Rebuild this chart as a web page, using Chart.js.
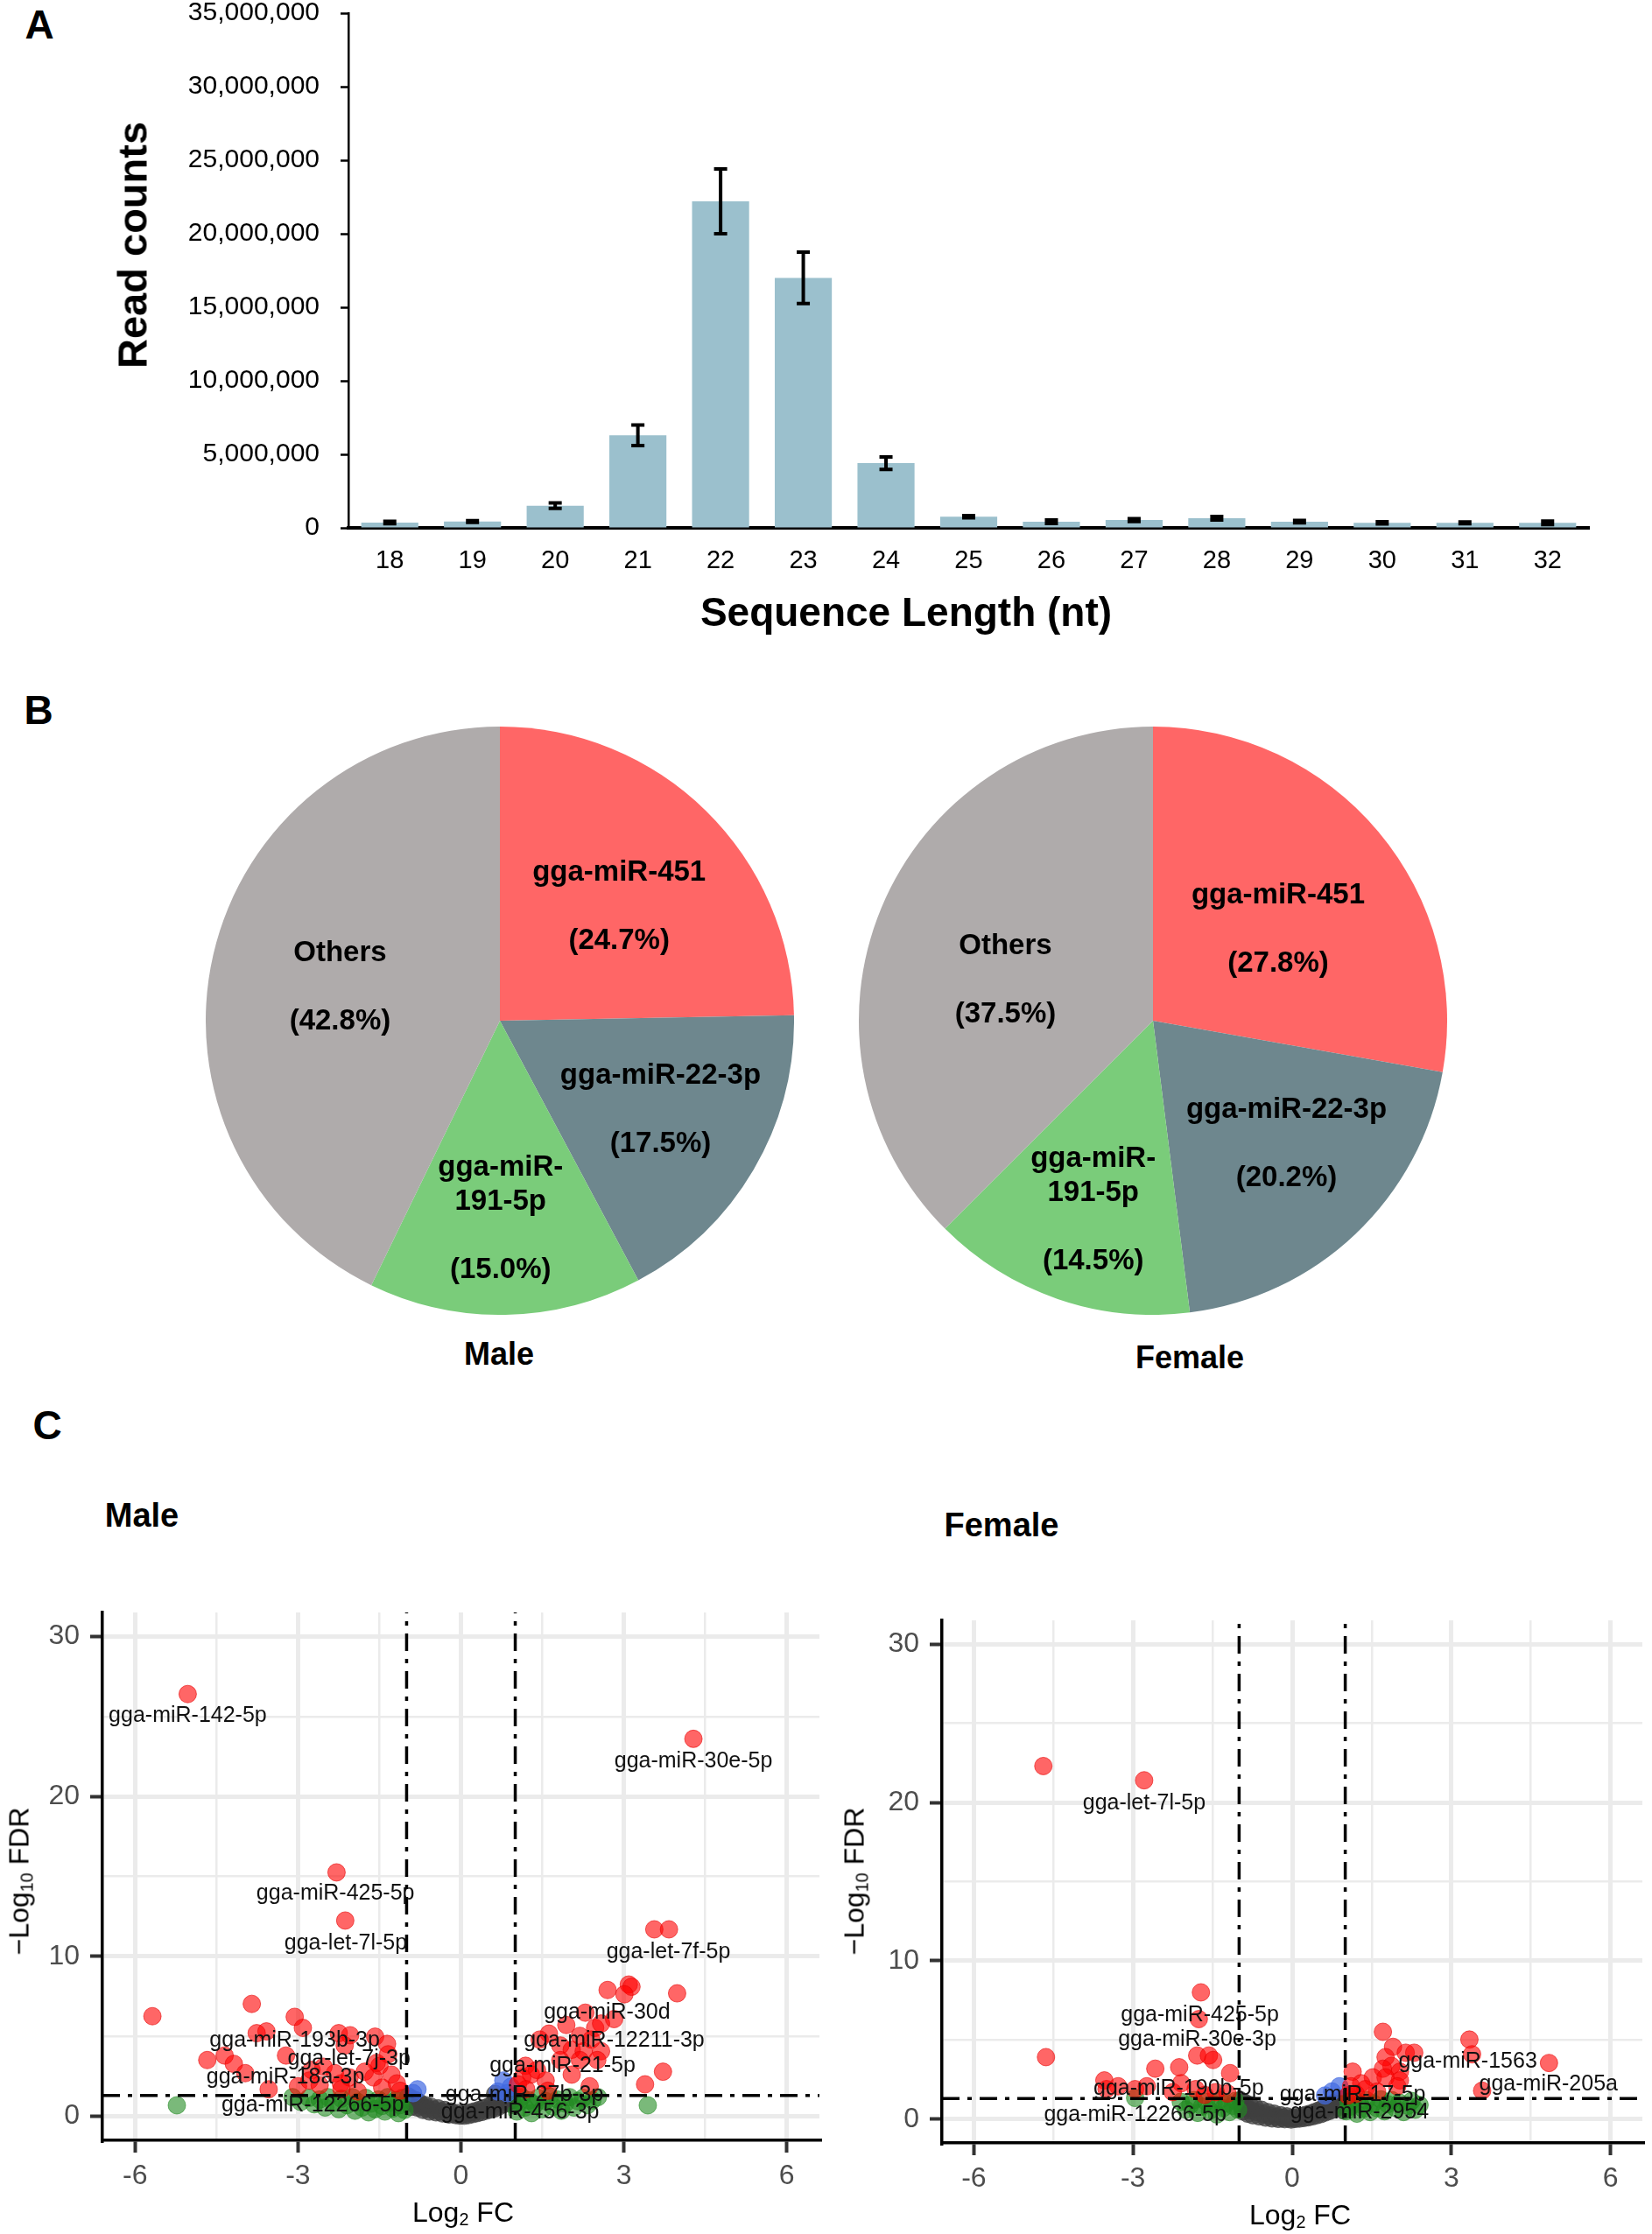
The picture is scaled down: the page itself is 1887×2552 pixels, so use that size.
<!DOCTYPE html>
<html>
<head>
<meta charset="utf-8">
<script src="https://cdn.jsdelivr.net/npm/chart.js@4.4.1/dist/chart.umd.min.js"></script>
<style>
  body { margin: 0; background: #fff; width: 1887px; height: 2552px; position: relative; overflow: hidden;
         font-family: "Liberation Sans", Arial, sans-serif; }
  canvas { position: absolute; }
  .t { position: absolute; transform: translate(-50%, -50%); white-space: nowrap; color: #000; }
  .b { font-weight: bold; }
  .rot { transform: translate(-50%, -50%) rotate(-90deg); }
  sub { font-size: 62%; vertical-align: -0.25em; }
</style>
</head>
<body>

<div class="t b" style="left:45px;top:28px;font-size:46px">A</div>
<div class="t b" style="left:44px;top:811px;font-size:46px">B</div>
<div class="t b" style="left:54px;top:1628px;font-size:46px">C</div>

<canvas id="lenChart" width="1887" height="740" style="left:0;top:0"></canvas>
<div class="t b rot" style="left:151px;top:280px;font-size:47px">Read counts</div>
<div class="t b" style="left:1035px;top:699px;font-size:46px">Sequence Length (nt)</div>

<canvas id="pieMale" width="672" height="672" style="left:235px;top:830px"></canvas>
<canvas id="pieFemale" width="672" height="672" style="left:981px;top:830px"></canvas>
<div class="t b" style="left:570px;top:1547px;font-size:36px">Male</div>
<div class="t b" style="left:1359px;top:1551px;font-size:36px">Female</div>

<div class="t b" style="left:162px;top:1731px;font-size:38px">Male</div>
<div class="t b" style="left:1144px;top:1742px;font-size:38px">Female</div>
<canvas id="volMale" width="950" height="772" style="left:0;top:1780px"></canvas>
<canvas id="volFemale" width="937" height="772" style="left:950px;top:1780px"></canvas>
<div class="t" style="left:529px;top:2528px;font-size:32px">Log<sub>2</sub> FC</div>
<div class="t rot" style="left:23px;top:2149px;font-size:32px">−Log<sub>10</sub> FDR</div>
<div class="t" style="left:1485px;top:2531px;font-size:32px">Log<sub>2</sub> FC</div>
<div class="t rot" style="left:977px;top:2149px;font-size:32px">−Log<sub>10</sub> FDR</div>

<script>
// ---- A: sequence length distribution
const seqLengths = ['18','19','20','21','22','23','24','25','26','27','28','29','30','31','32'];
const readCounts = [360000, 430000, 1510000, 6300000, 22200000, 17000000, 4400000, 760000,
                    420000, 530000, 650000, 420000, 340000, 340000, 340000];
const readErr = [80000, 60000, 180000, 700000, 2200000, 1750000, 420000, 80000,
                 120000, 100000, 120000, 80000, 70000, 60000, 120000];

// ---- B: top miRNAs
const pieNames = ['gga-miR-451', 'gga-miR-22-3p', 'gga-miR-191-5p', 'Others'];
const pieLines = [['gga-miR-451'], ['gga-miR-22-3p'], ['gga-miR-', '191-5p'], ['Others']];
const malePct = [24.7, 17.5, 15.0, 42.8];
const femalePct = [27.8, 20.2, 14.5, 37.5];

// ---- C: volcano plots  [log2FC, -log10 FDR]
const fcCut = [-1, 1];
const fdrCut = 1.3;
const volXTicks = [-6, -4.5, -3, -1.5, 0, 1.5, 3, 4.5, 6];
const volYTicks = [0, 5, 10, 15, 20, 25, 30];

const maleSig = [[-5.03,26.4],[4.28,23.6],[-2.29,15.25],[-2.13,12.24],[3.56,11.69],[3.83,11.69],
  [3.98,7.69],[2.7,7.9],[3.09,8.24],[3.14,8.1],[3.01,7.63],
  [-5.68,6.26],[-3.85,7.03],[-3.06,6.22],[-2.91,5.53],[-3.76,5.2],[-3.58,5.31],[-2.25,5.2],[-2.04,5.07],
  [-1.58,4.98],[-1.36,4.53],[-4.67,3.52],[-4.35,3.8],[-4.18,3.28],[-3.97,2.7],[-3.22,3.8],[-3.54,1.69],
  [-2.75,2.9],[-2.53,3.1],[-2.32,2.7],[-3.0,1.88],[-2.79,2.24],[-2.21,2.06],[-2.05,2.43],[-1.77,2.79],
  [-1.61,2.43],[-1.5,3.16],[-1.28,2.61],[-1.18,2.06],[-1.34,3.88],[-1.55,3.34],[-2.14,4.43],[-2.6,1.95],
  [-2.2,1.7],[-1.45,1.8],[-1.12,1.6],[-1.9,1.55],
  [2.29,6.48],[1.94,5.71],[2.47,5.53],[2.58,5.8],[2.82,6.08],[1.62,5.17],[1.45,4.8],[1.83,4.43],[2.04,4.16],
  [2.26,4.07],[2.58,4.07],[2.19,5.03],[2.4,4.8],[2.04,2.61],[2.37,1.88],[1.56,2.24],[1.19,3.16],[1.13,2.43],
  [1.29,2.61],[3.72,2.79],[3.39,2.0],[2.19,3.52],[2.51,3.52],[1.83,3.52],[1.05,2.0],[1.2,1.7],[1.6,1.6],[1.4,2.9]];
const maleFcOnly = [[-5.23,0.69],[3.44,0.69],
  [-3.1,1.2],[-2.95,0.9],[-2.8,1.15],[-2.7,0.75],[-2.6,1.05],[-2.5,0.55],[-2.45,1.2],[-2.35,0.85],[-2.25,0.45],
  [-2.2,1.1],[-2.1,0.7],[-2.0,1.2],[-1.95,0.35],[-1.9,0.9],[-1.82,0.55],[-1.75,1.15],[-1.7,0.25],[-1.65,0.8],
  [-1.58,0.45],[-1.52,1.05],[-1.45,0.65],[-1.4,0.3],[-1.35,1.2],[-1.3,0.85],[-1.25,0.5],[-1.2,1.0],[-1.15,0.2],
  [-1.12,0.7],[-1.08,1.15],[-1.04,0.4],
  [1.03,0.3],[1.07,0.9],[1.12,1.2],[1.18,0.55],[1.25,1.0],[1.3,0.2],[1.36,0.75],[1.42,1.15],[1.5,0.45],
  [1.56,0.95],[1.63,1.25],[1.7,0.6],[1.78,1.05],[1.85,0.35],[1.92,0.8],[2.0,1.2],[2.08,0.55],[2.15,0.95],
  [2.25,1.15],[2.33,0.7],[2.42,1.0],[2.52,1.2]];
const maleFdrOnly = [[-0.8,1.69],[-0.88,1.45],[0.78,2.24],[0.92,1.85],[0.68,1.55],[0.85,1.45]];
const maleNs = [[-0.97,1.25],[-0.95,0.9],[-0.92,0.6],[-0.9,1.1],[-0.86,0.8],[-0.83,1.0],[-0.8,0.55],[-0.76,0.85],
  [-0.72,0.65],[-0.7,0.4],[-0.66,0.7],[-0.62,0.5],[-0.58,0.3],[-0.55,0.6],[-0.5,0.42],[-0.46,0.25],[-0.42,0.5],
  [-0.38,0.3],[-0.34,0.18],[-0.3,0.4],[-0.26,0.22],[-0.22,0.12],[-0.18,0.3],[-0.14,0.15],[-0.1,0.08],[-0.06,0.2],
  [-0.02,0.05],[0.02,0.12],[0.06,0.04],[0.1,0.18],[0.14,0.08],[0.18,0.25],[0.22,0.14],[0.26,0.32],[0.3,0.2],
  [0.34,0.4],[0.38,0.27],[0.42,0.5],[0.46,0.35],[0.5,0.6],[0.54,0.42],[0.58,0.75],[0.62,0.5],[0.66,0.9],[0.7,0.62],
  [0.74,1.05],[0.78,0.75],[0.82,1.2],[0.86,0.9],[0.9,1.28],[0.94,1.0],[0.97,0.7],[0.63,1.4]];
const maleTags = [['gga-miR-142-5p',-5.03,25.03],['gga-miR-30e-5p',4.28,22.19],['gga-miR-425-5p',-2.31,13.93],
  ['gga-let-7l-5p',-2.12,10.83],['gga-let-7f-5p',3.82,10.28],['gga-miR-30d',2.69,6.48],['gga-miR-193b-3p',-3.06,4.76],
  ['gga-miR-12211-3p',2.82,4.71],['gga-let-7j-3p',-2.06,3.56],['gga-miR-21-5p',1.87,3.12],['gga-miR-18a-3p',-3.23,2.43],
  ['gga-miR-27b-3p',1.17,1.33],['gga-miR-12266-5p',-2.73,0.69],['gga-miR-456-3p',1.09,0.24]];

const femaleSig = [[-4.69,22.3],[-2.79,21.4],[-1.72,8.01],[-1.76,6.32],[-4.64,3.92],[-1.79,4.02],[-1.57,4.02],
  [-1.49,3.74],[-2.58,3.19],[-2.13,3.28],[-1.17,2.91],[-3.54,2.45],[-3.28,2.08],[-2.96,1.9],[-2.74,2.08],[-2.09,2.27],
  [-2.25,1.71],[-1.82,1.9],[-1.65,1.53],[-1.44,1.71],[-1.22,1.62],[-3.5,1.9],
  [1.71,5.52],[3.34,5.03],[1.9,4.57],[2.14,4.2],[2.3,4.2],[3.39,4.1],[4.84,3.55],[1.76,3.92],[1.87,3.37],[1.71,3.19],
  [2.03,3.0],[1.14,3.0],[1.52,2.64],[1.76,2.64],[2.03,2.45],[1.3,2.27],[1.11,2.08],[1.38,1.9],[1.98,2.08],[3.58,1.8],
  [1.2,1.6],[1.6,1.75],[1.05,1.5]];
const femaleFcOnly = [[-2.96,1.34],[-2.1,1.1],[-2.0,0.6],[-1.92,0.9],[-1.85,1.2],[-1.78,0.4],[-1.7,0.8],[-1.62,1.1],
  [-1.55,0.55],[-1.48,0.95],[-1.42,0.3],[-1.36,1.2],[-1.3,0.7],[-1.24,1.0],[-1.18,0.45],[-1.12,0.85],[-1.07,1.15],
  [-1.02,0.6],
  [1.02,0.5],[1.06,1.1],[1.1,0.8],[1.16,1.25],[1.22,0.35],[1.28,0.95],[1.34,0.65],[1.4,1.2],[1.47,0.45],[1.53,1.0],
  [1.6,0.7],[1.67,1.25],[1.74,0.5],[1.8,0.95],[1.88,1.2],[1.95,0.7],[2.02,1.05],[2.1,0.45],[2.18,0.85],[2.25,1.15],
  [2.32,0.6],[2.4,0.9]];
const femaleFdrOnly = [[0.89,2.08],[0.75,1.75],[0.62,1.5]];
const femaleNs = [[-0.98,1.2],[-0.96,0.85],[-0.93,0.5],[-0.9,1.05],[-0.87,0.7],[-0.84,0.35],[-0.8,0.9],[-0.77,0.55],
  [-0.74,0.25],[-0.7,0.75],[-0.66,0.45],[-0.62,0.18],[-0.58,0.6],[-0.54,0.32],[-0.5,0.1],[-0.46,0.45],[-0.42,0.22],
  [-0.38,0.05],[-0.34,0.35],[-0.3,0.15],[-0.26,0.02],[-0.22,0.25],[-0.18,0.08],[-0.14,0.0],[-0.1,0.18],[-0.06,0.05],
  [-0.02,-0.02],[0.02,0.1],[0.06,0.02],[0.1,0.15],[0.14,0.04],[0.18,0.2],[0.22,0.08],[0.26,0.28],[0.3,0.12],
  [0.34,0.35],[0.38,0.18],[0.42,0.45],[0.46,0.25],[0.5,0.55],[0.54,0.32],[0.58,0.68],[0.62,0.42],[0.66,0.8],
  [0.7,0.52],[0.74,0.95],[0.78,0.62],[0.82,1.1],[0.86,0.75],[0.9,1.25],[0.94,0.9],[0.97,0.55]];
const femaleTags = [['gga-let-7l-5p',-2.79,19.96],['gga-miR-425-5p',-1.74,6.59],['gga-miR-30e-3p',-1.79,5.03],
  ['gga-miR-1563',3.31,3.65],['gga-miR-205a',4.83,2.17],['gga-miR-190b-5p',-2.14,1.9],['gga-miR-17-5p',1.14,1.53],
  ['gga-miR-12266-5p',-2.96,0.28],['gga-miR-2954',1.27,0.42]];

const FONT = '"Liberation Sans", Arial, sans-serif';
Chart.defaults.font.family = FONT;
Chart.defaults.animation = false;
Chart.defaults.events = [];
Chart.defaults.plugins.legend.display = false;
Chart.defaults.plugins.tooltip.enabled = false;

// no automatic label overflow padding, the layout is pinned by hand
function pinScale(size) {
  return function(scale) {
    if (scale.isHorizontal()) scale.height = size; else scale.width = size;
    scale.paddingTop = scale.paddingBottom = scale.paddingLeft = scale.paddingRight = 0;
  };
}

// error bars on the length chart
const errorBars = {
  id: 'errorBars',
  afterDatasetsDraw(chart) {
    const {ctx, scales: {x, y}} = chart;
    ctx.save();
    ctx.strokeStyle = '#000';
    readCounts.forEach((v, i) => {
      const px = x.getPixelForValue(i);
      const top = y.getPixelForValue(v + readErr[i]);
      const bot = y.getPixelForValue(v - readErr[i]);
      ctx.lineWidth = 4;
      ctx.beginPath(); ctx.moveTo(px, top); ctx.lineTo(px, bot); ctx.stroke();
      ctx.beginPath();
      ctx.moveTo(px - 7.5, top); ctx.lineTo(px + 7.5, top);
      ctx.moveTo(px - 7.5, bot); ctx.lineTo(px + 7.5, bot);
      ctx.stroke();
    });
    ctx.restore();
  }
};

new Chart(document.getElementById('lenChart'), {
  type: 'bar',
  data: {
    labels: seqLengths,
    datasets: [{ data: readCounts, backgroundColor: '#9BC0CD', categoryPercentage: 1, barPercentage: 0.69 }]
  },
  options: {
    responsive: false,
    layout: { padding: { top: 15, right: 72, bottom: 0, left: 0 } },
    scales: {
      x: {
        afterFit: pinScale(137),
        grid: { display: false },
        border: { display: true, color: '#000', width: 4 },
        ticks: { color: '#000', font: { size: 29 }, padding: 13 }
      },
      y: {
        min: 0, max: 35000000,
        afterFit: pinScale(398),
        grid: { drawOnChartArea: false, drawTicks: true, tickLength: 9, tickColor: '#000', tickWidth: 2.5 },
        border: { display: true, color: '#000', width: 2.5 },
        ticks: { stepSize: 5000000, color: '#000', font: { size: 30 }, padding: 24,
                 callback: v => v.toLocaleString('en-US') }
      }
    }
  },
  plugins: [errorBars]
});

// text inside pie slices
const sliceText = {
  id: 'sliceText',
  afterDatasetsDraw(chart, args, opts) {
    const ctx = chart.ctx;
    const arcs = chart.getDatasetMeta(0).data;
    const vals = chart.data.datasets[0].data;
    ctx.save();
    ctx.font = 'bold 33px ' + FONT;
    ctx.fillStyle = '#000';
    ctx.textAlign = 'center';
    ctx.textBaseline = 'middle';
    arcs.forEach((arc, i) => {
      const p = arc.getProps(['x', 'y', 'startAngle', 'endAngle', 'outerRadius'], true);
      const a = (p.startAngle + p.endAngle) / 2 + opts.shift[i] * Math.PI / 180;
      const r = p.outerRadius * opts.dist[i];
      const cx = p.x + r * Math.cos(a), cy = p.y + r * Math.sin(a);
      const lines = pieLines[i].concat(['', '(' + vals[i].toFixed(1) + '%)']);
      lines.forEach((t, k) => ctx.fillText(t, cx, cy + (k - (lines.length - 1) / 2) * 39));
    });
    ctx.restore();
  }
};

const pieColors = ['#FF6666', '#6E878E', '#7ACC7A', '#AFABAB'];

function makePie(id, values, dist, shift) {
  new Chart(document.getElementById(id), {
    type: 'pie',
    data: { labels: pieNames, datasets: [{ data: values, backgroundColor: pieColors, borderWidth: 0 }] },
    options: {
      responsive: false,
      layout: { padding: 0 },
      plugins: { sliceText: { dist: dist, shift: shift } }
    },
    plugins: [sliceText]
  });
}
makePie('pieMale', malePct, [0.56, 0.625, 0.675, 0.555], [1.9, -1.3, 0.9, -1.2]);
makePie('pieFemale', femalePct, [0.527, 0.617, 0.676, 0.52], [3.8, -3.8, -1.4, -7.2]);

// miRNA names next to volcano points
const pointText = {
  id: 'pointText',
  afterDatasetsDraw(chart, args, opts) {
    const {ctx, scales: {x, y}} = chart;
    ctx.save();
    ctx.font = '25px ' + FONT;
    ctx.fillStyle = '#111';
    ctx.textAlign = 'center';
    ctx.textBaseline = 'middle';
    opts.items.forEach(([t, vx, vy]) => ctx.fillText(t, x.getPixelForValue(vx), y.getPixelForValue(vy)));
    ctx.restore();
  }
};

const toXY = arr => arr.map(([x, y]) => ({ x: x, y: y }));
const isMajor = (v, step) => Math.abs(v / step - Math.round(v / step)) < 1e-6;

function makeVolcano(id, sets, tags, geo) {
  const dash = [20, 9, 5, 9];
  const pts = (data, bg, border, order) => ({
    data: toXY(data), backgroundColor: bg, borderColor: border, borderWidth: 1,
    pointRadius: 10, order: order
  });
  const cutLine = data => ({
    data: data, showLine: true, pointRadius: 0, borderColor: '#000', borderWidth: 3.5,
    borderDash: dash, order: 0
  });
  new Chart(document.getElementById(id), {
    type: 'scatter',
    data: {
      datasets: [
        pts(sets.ns, 'rgba(64,64,64,0.75)', 'rgba(64,64,64,0.75)', 5),
        pts(sets.fc, 'rgba(34,139,34,0.6)', 'rgba(34,139,34,0.6)', 4),
        pts(sets.fdr, 'rgba(65,105,225,0.7)', 'rgba(65,105,225,0.7)', 3),
        pts(sets.sig, 'rgba(255,0,0,0.6)', 'rgba(230,0,0,0.6)', 2),
        cutLine([{ x: fcCut[0], y: -1.5 }, { x: fcCut[0], y: 31.5 }]),
        cutLine([{ x: fcCut[1], y: -1.5 }, { x: fcCut[1], y: 31.5 }]),
        cutLine([{ x: -6.6, y: fdrCut }, { x: 6.6, y: fdrCut }])
      ]
    },
    options: {
      responsive: false,
      layout: { padding: { top: geo.top, right: geo.right, bottom: 0, left: 0 } },
      scales: {
        x: {
          min: -6.6, max: 6.6, bounds: 'data',
          afterFit: pinScale(geo.xh),
          afterBuildTicks: s => { s.ticks = volXTicks.map(v => ({ value: v })); },
          grid: {
            color: '#EBEBEB',
            lineWidth: c => isMajor(c.tick.value, 3) ? 5 : 2.5,
            tickLength: 14,
            tickColor: c => isMajor(c.tick.value, 3) ? '#333' : 'rgba(0,0,0,0)',
            tickWidth: 4
          },
          border: { display: true, color: '#000', width: 3.5 },
          ticks: { autoSkip: false, maxRotation: 0, color: '#4D4D4D', font: { size: 32 }, padding: 8,
                   callback: v => isMajor(v, 3) ? String(v) : '' }
        },
        y: {
          min: -1.5, max: 31.5, bounds: 'data',
          afterFit: pinScale(geo.yw),
          afterBuildTicks: s => { s.ticks = volYTicks.map(v => ({ value: v })); },
          grid: {
            color: '#EBEBEB',
            lineWidth: c => isMajor(c.tick.value, 10) ? 5 : 2.5,
            tickLength: 14,
            tickColor: c => isMajor(c.tick.value, 10) ? '#333' : 'rgba(0,0,0,0)',
            tickWidth: 4
          },
          border: { display: true, color: '#000', width: 3.5 },
          ticks: { autoSkip: false, color: '#4D4D4D', font: { size: 32 }, padding: 12,
                   callback: v => isMajor(v, 10) ? String(v) : '' }
        }
      },
      plugins: { pointText: { items: tags } }
    },
    plugins: [pointText]
  });
}

makeVolcano('volMale', { sig: maleSig, fc: maleFcOnly, fdr: maleFdrOnly, ns: maleNs }, maleTags,
            { top: 62, right: 14, xh: 107, yw: 117 });
makeVolcano('volFemale', { sig: femaleSig, fc: femaleFcOnly, fdr: femaleFdrOnly, ns: femaleNs }, femaleTags,
            { top: 71, right: 2, xh: 104, yw: 126 });
</script>
</body>
</html>
